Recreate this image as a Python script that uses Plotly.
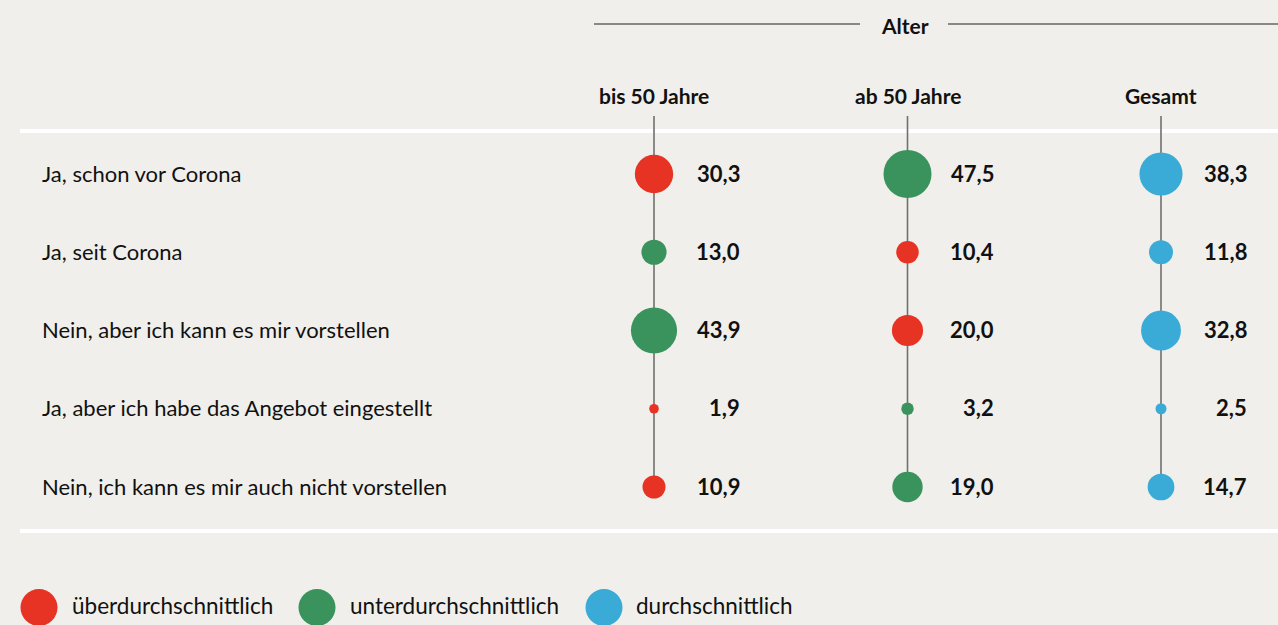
import plotly.graph_objects as go

# Survey answers (rows) and age groups (columns)
answers = [
    "Ja, schon vor Corona",
    "Ja, seit Corona",
    "Nein, aber ich kann es mir vorstellen",
    "Ja, aber ich habe das Angebot eingestellt",
    "Nein, ich kann es mir auch nicht vorstellen",
]
groups = ["bis 50 Jahre", "ab 50 Jahre", "Gesamt"]

# Shares in percent per group
bis50 = [30.3, 13.0, 43.9, 1.9, 10.9]
ab50 = [47.5, 10.4, 20.0, 3.2, 19.0]
gesamt = [38.3, 11.8, 32.8, 2.5, 14.7]

# Rating of each value versus the overall average
bis50_rating = ["über", "unter", "unter", "über", "über"]
ab50_rating = ["unter", "über", "über", "unter", "unter"]
gesamt_rating = ["mittel", "mittel", "mittel", "mittel", "mittel"]

legend_labels = ["überdurchschnittlich", "unterdurchschnittlich", "durchschnittlich"]

BG = "#f0efeb"
COLORS = {"über": "#e63323", "unter": "#3a935c", "mittel": "#3aaad6"}
FONT = "Lato"
TXT = "#111111"
W, H = 1278, 625

values = [bis50, ab50, gesamt]
ratings = [bis50_rating, ab50_rating, gesamt_rating]


def py(px):
    """Pixel row from the top -> paper y."""
    return 1 - px / H


fig = go.Figure()

# vertical guide line per column
for gi in range(len(groups)):
    fig.add_shape(type="line", xref="x", yref="y", x0=gi, x1=gi, y0=-0.74,
                  y1=len(answers) - 1, line=dict(color="#707070", width=1.6), layer="below")

# bubbles (area proportional to value)
for gi, g in enumerate(groups):
    fig.add_trace(go.Scatter(
        x=[gi] * len(answers),
        y=list(range(len(answers))),
        mode="markers",
        marker=dict(size=values[gi], sizemode="area", sizeref=0.0412,
                    color=[COLORS[r] for r in ratings[gi]], line=dict(width=0), opacity=1),
        showlegend=False,
        hoverinfo="skip",
    ))
    # value labels
    for ri, v in enumerate(values[gi]):
        fig.add_annotation(x=gi, y=ri, xref="x", yref="y", xshift=88, xanchor="right",
                           yanchor="middle", yshift=1,
                           text=f"<b>{v:.1f}</b>".replace(".", ","), showarrow=False,
                           font=dict(family=FONT, size=22, color=TXT))
    # column header
    fig.add_annotation(x=gi, y=py(95), xref="x", yref="paper", xanchor="center",
                       yanchor="middle", text=f"<b>{g}</b>", showarrow=False,
                       font=dict(family=FONT, size=21, color=TXT))

# row labels
for ri, a in enumerate(answers):
    fig.add_annotation(x=40 / W, y=ri, xref="paper", yref="y", xanchor="left",
                       yanchor="middle", yshift=1, text=a, showarrow=False,
                       font=dict(family=FONT, size=22, color=TXT))

# "Alter" group header with rule lines
fig.add_annotation(x=905 / W, y=py(25), xref="paper", yref="paper", xanchor="center",
                   yanchor="middle", text="<b>Alter</b>", showarrow=False,
                   font=dict(family=FONT, size=21, color=TXT))
for x0, x1 in [(594, 860), (948, 1278)]:
    fig.add_shape(type="line", xref="paper", yref="paper", x0=x0 / W, x1=x1 / W,
                  y0=py(24), y1=py(24), line=dict(color="#222222", width=1.2))

# white separators above and below the table
for yy in (131, 531):
    fig.add_shape(type="line", xref="paper", yref="paper", x0=20 / W, x1=1,
                  y0=py(yy), y1=py(yy), line=dict(color="#ffffff", width=4), layer="below")

# legend
for (cx, tx), lab, key in zip([(39, 70), (317, 348), (604, 634)], legend_labels,
                              ["über", "unter", "mittel"]):
    fig.add_shape(type="circle", xref="paper", yref="paper",
                  x0=(cx - 18.5) / W, x1=(cx + 18.5) / W, y0=py(626), y1=py(589),
                  fillcolor=COLORS[key], line=dict(width=0))
    fig.add_annotation(x=tx / W, y=py(605), xref="paper", yref="paper", xanchor="left",
                       yanchor="middle", text=lab, showarrow=False,
                       font=dict(family=FONT, size=22.5, color=TXT))

# axis ranges place column 0 at x=654px, spacing ~253.5px; row 0 at y=174px, spacing ~78.25px
xs, ys = 253.5, 78.25
fig.update_xaxes(range=[-654 / xs, (W - 654) / xs], visible=False, fixedrange=True)
fig.update_yaxes(range=[(H - 174) / ys, -174 / ys], visible=False, fixedrange=True)

fig.update_layout(
    width=W, height=H,
    margin=dict(l=0, r=0, t=0, b=0),
    paper_bgcolor=BG, plot_bgcolor=BG,
    showlegend=False,
)

fig.write_html("out.html", include_plotlyjs=True, config={"displayModeBar": False})
